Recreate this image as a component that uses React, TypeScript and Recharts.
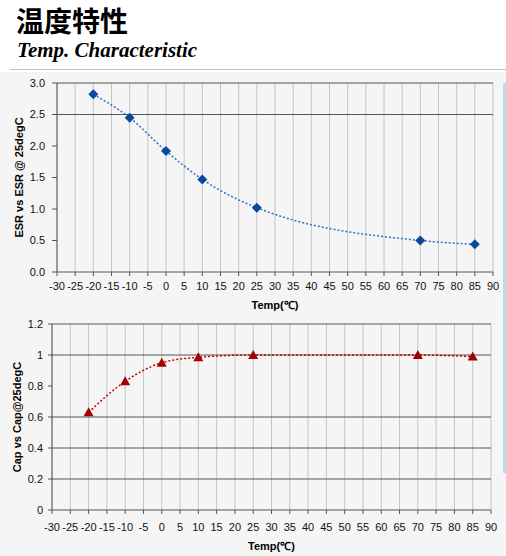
import {
    CartesianGrid,
    Line,
    LineChart,
    ReferenceLine,
    XAxis,
    YAxis
} from "recharts";

// temperatures (degC) measured
const temps = [-20, -10, 0, 10, 25, 70, 85];
// ESR relative to ESR @ 25degC
const esrRatio = [2.82, 2.45, 1.92, 1.47, 1.02, 0.5, 0.44];
// Cap relative to Cap @ 25degC
const capRatio = [0.63, 0.83, 0.95, 0.985, 1.0, 1.0, 0.99];

const tempTicks = [-30, -25, -20, -15, -10, -5, 0, 5, 10, 15, 20, 25, 30, 35, 40, 45, 50, 55, 60, 65, 70, 75, 80, 85, 90];
const esrTicks = [0, 0.5, 1.0, 1.5, 2.0, 2.5, 3.0];
const esrGridLines = [2.5, 3.0];
const capTicks = [0, 0.2, 0.4, 0.6, 0.8, 1, 1.2];
const capGridLines = [0.2, 0.4, 0.6, 1, 1.2];

const esrData = temps.map((t, i) => ({ temp: t, value: esrRatio[i] }));
const capData = temps.map((t, i) => ({ temp: t, value: capRatio[i] }));

const FONT = "'Liberation Sans', Arial, sans-serif";
const tickStyle = { fontSize: 11, fill: "#111", fontFamily: FONT };
const labelStyle = { fontSize: 11, fontWeight: "bold", fill: "#000", fontFamily: FONT };

const Diamond = ({ cx, cy }: any) => {
    if (cx == null || cy == null) return null;
    const r = 5;
    return <polygon points={`${cx},${cy - r} ${cx + r},${cy} ${cx},${cy + r} ${cx - r},${cy}`} fill="#0b4a9b" />;
};

const Triangle = ({ cx, cy }: any) => {
    if (cx == null || cy == null) return null;
    return <polygon points={`${cx},${cy - 5} ${cx + 5},${cy + 4} ${cx - 5},${cy + 4}`} fill="#a30000" />;
};

const App = () => {
    return (
        <div style={{ position: "absolute", left: 0, top: 0, width: 506, height: 556, background: "#fff", overflow: "hidden" }}>
            <div style={{ position: "absolute", left: 16, top: 5, fontFamily: "'Noto Sans CJK SC', sans-serif", fontWeight: "bold", fontSize: 28, lineHeight: "30px", color: "#000" }}>
                温度特性
            </div>
            <div style={{ position: "absolute", left: 17, top: 40, fontFamily: "'Liberation Serif', serif", fontWeight: "bold", fontStyle: "italic", fontSize: 21, lineHeight: "21px", color: "#000" }}>
                Temp. Characteristic
            </div>
            <div style={{ position: "absolute", left: 10, top: 69, width: 496, height: 1, background: "#c0c0c0" }} />
            <div style={{ position: "absolute", left: 0, top: 72, width: 506, height: 484, background: "#f5f5f5" }} />
            <div style={{ position: "absolute", left: 503, top: 83, width: 3, height: 390, background: "#b8dde3" }} />

            <div style={{ position: "absolute", left: 0, top: 72 }}>
                <LineChart width={506} height={240} data={esrData} margin={{ top: 11, right: 13, bottom: 0, left: 0 }}>
                    <CartesianGrid horizontal={false} stroke="#c4c4c4" />
                    {esrGridLines.map((v) => (
                        <ReferenceLine key={v} y={v} stroke="#555" />
                    ))}
                    <XAxis
                        dataKey="temp"
                        type="number"
                        domain={[-30, 90]}
                        ticks={tempTicks}
                        interval={0}
                        height={40}
                        tick={tickStyle}
                        tickSize={4}
                        tickMargin={6}
                        stroke="#555"
                        label={{ value: "Temp(℃)", position: "insideBottom", offset: 3, style: labelStyle }}
                    />
                    <YAxis
                        type="number"
                        domain={[0, 3]}
                        ticks={esrTicks}
                        interval={0}
                        width={57}
                        tick={tickStyle}
                        tickSize={5}
                        tickMargin={7}
                        stroke="#555"
                        tickFormatter={(v) => v.toFixed(1)}
                        label={{ value: "ESR vs ESR @ 25degC", angle: -90, position: "insideLeft", offset: 19, style: { ...labelStyle, textAnchor: "middle" } }}
                    />
                    <Line
                        type="monotone"
                        dataKey="value"
                        stroke="#2f6fc4"
                        strokeWidth={1.5}
                        strokeDasharray="2 2"
                        dot={(p: any) => <Diamond key={`d${p.index}`} {...p} />}
                        activeDot={false}
                        isAnimationActive={false}
                    />
                </LineChart>
            </div>

            <div style={{ position: "absolute", left: 0, top: 312 }}>
                <LineChart width={506} height={244} data={capData} margin={{ top: 12, right: 15, bottom: 0, left: 0 }}>
                    <CartesianGrid horizontal={false} stroke="#c4c4c4" />
                    {capGridLines.map((v) => (
                        <ReferenceLine key={v} y={v} stroke="#555" />
                    ))}
                    <XAxis
                        dataKey="temp"
                        type="number"
                        domain={[-30, 90]}
                        ticks={tempTicks}
                        interval={0}
                        height={46}
                        tick={tickStyle}
                        tickSize={4}
                        tickMargin={9}
                        stroke="#555"
                        label={{ value: "Temp(℃)", position: "insideBottom", offset: 6, style: labelStyle }}
                    />
                    <YAxis
                        type="number"
                        domain={[0, 1.2]}
                        ticks={capTicks}
                        interval={0}
                        width={52}
                        tick={tickStyle}
                        tickSize={4}
                        tickMargin={5}
                        stroke="#555"
                        label={{ value: "Cap  vs Cap@25degC", angle: -90, position: "insideLeft", offset: 17, style: { ...labelStyle, textAnchor: "middle" } }}
                    />
                    <Line
                        type="monotone"
                        dataKey="value"
                        stroke="#c00000"
                        strokeWidth={1.5}
                        strokeDasharray="2 2"
                        dot={(p: any) => <Triangle key={`t${p.index}`} {...p} />}
                        activeDot={false}
                        isAnimationActive={false}
                    />
                </LineChart>
            </div>
        </div>
    );
};

export default App;
